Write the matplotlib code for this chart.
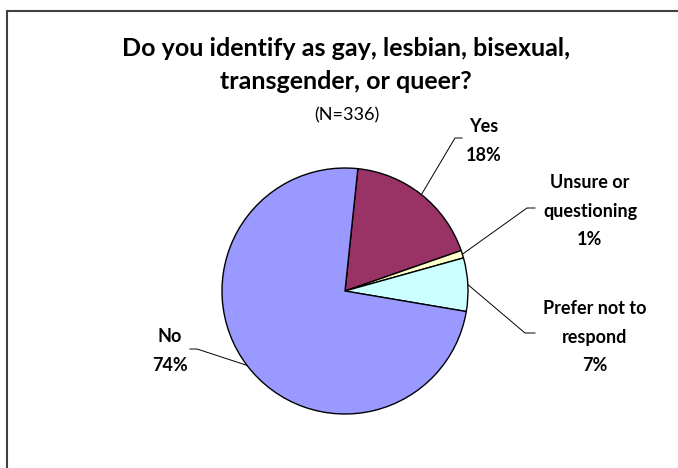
"""Pie chart: LGBTQ self-identification survey responses."""

import numpy as np
import matplotlib

matplotlib.use("Agg")
import matplotlib.pyplot as plt

plt.rcParams["font.family"] = ["Lato", "DejaVu Sans"]

TITLE = "Do you identify as gay, lesbian, bisexual,\ntransgender, or queer?"
SUBTITLE = "(N=336)"

categories = ["Yes", "Unsure or\nquestioning", "Prefer not to\nrespond", "No"]
percents = [18, 1, 7, 74]
colors = ["#993366", "#FFFFCC", "#CCFFFF", "#9999FF"]

W, H = 678, 468
CX, CY, R = 345, H - 291, 123

# label block centre and the elbow of the leader line (pixel coords, y down)
label_pos = [(484, 141), (590, 211), (595, 337), (170, 351)]
elbow = [((455, 138), (462, 138)), ((527, 208), (535, 208)),
         ((525, 333), (535, 333)), ((197, 349), (190, 349))]

fig = plt.figure(figsize=(W / 100, H / 100), dpi=100)
ax = fig.add_axes([0, 0, 1, 1])

wedges, _ = ax.pie(
    percents,
    colors=colors,
    startangle=84,
    counterclock=False,
    center=(CX, CY),
    radius=R,
    wedgeprops={"edgecolor": "black", "linewidth": 1.0},
)
ax.set_xlim(0, W)
ax.set_ylim(0, H)
ax.set_aspect("equal")
ax.axis("off")

for w, cat, pct, (lx, ly), (e1, e2) in zip(wedges, categories, percents, label_pos, elbow):
    mid = np.deg2rad((w.theta1 + w.theta2) / 2)
    ex, ey = CX + R * np.cos(mid), CY + R * np.sin(mid)
    ax.plot([ex, e1[0], e2[0]], [ey, H - e1[1], H - e2[1]], color="black", lw=0.7)
    ax.text(lx, H - ly, f"{cat}\n{pct}%", ha="center", va="center",
            fontsize=13, fontweight="bold", linespacing=1.8)

ax.text(346, H - 65, TITLE, ha="center", va="center", fontsize=18,
        fontweight="bold", linespacing=1.5)
ax.text(347, H - 115, SUBTITLE, ha="center", va="center", fontsize=13)

# chart frame (left and top edges visible)
ax.plot([7, 7, W], [0, H - 11, H - 11], color="#404040", lw=1.5,
        solid_joinstyle="miter")

fig.savefig("out.png", dpi=100)
